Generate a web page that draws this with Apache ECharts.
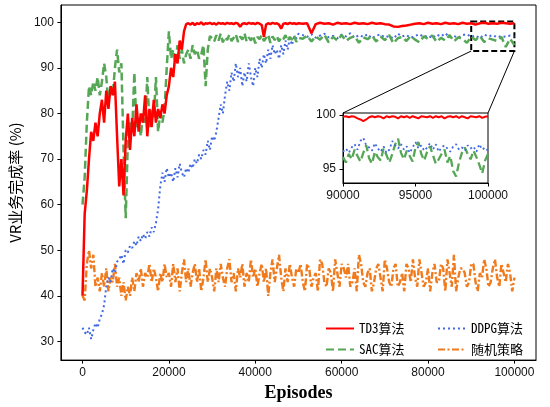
<!DOCTYPE html>
<html>
<head>
<meta charset="utf-8">
<script src="https://cdn.jsdelivr.net/npm/echarts@6/dist/echarts.min.js"></script>
<style>
  html, body { margin: 0; padding: 0; background: #fff; }
  #chart { width: 550px; height: 407px; }
</style>
</head>
<body>
<div id="chart"></div>
<script>
// episodes: every 500 up to 50000, then every 1000
const episodes = [];
for (let e = 0; e <= 50000; e += 500) episodes.push(e);
for (let e = 51000; e <= 100000; e += 1000) episodes.push(e);
// the random policy is read every 500 episodes over the whole run
const episodesFine = [];
for (let e = 0; e <= 100000; e += 500) episodesFine.push(e);

const td3Rate = [
  40, 58, 63, 70, 76, 74, 78, 75, 80, 83, 78, 85, 81, 86, 84, 87, 75, 64, 70, 62,
  74, 80, 72, 79, 75, 82, 76, 80, 78, 84, 75, 81, 77, 83, 78, 81, 79, 82, 80, 84,
  86, 90, 88, 93, 91, 96, 94, 98, 99.6, 99.8, 99.5, 99.9, 99.4, 99.8, 99.6, 100, 99.5, 99.8, 99.7, 99.9,
  99.6, 99.8, 99.5, 99.9, 99.7, 99.8, 99.6, 99.9, 99.7, 99.8, 99.6, 99.9, 99.7, 99.0, 99.7, 99.8, 99.6, 99.9, 99.7, 99.8,
  99.6, 99.9, 99.7, 99.4, 96.8, 99.5, 99.8, 99.6, 99.9, 99.7, 99.8, 99.5, 98.6, 99.7, 99.8, 99.6, 99.9, 99.7, 99.8, 99.6,
  99.8,
  99.7, 99.8, 97.6, 99.6, 99.9, 99.7, 99.8, 99.5, 99.9, 99.7, 99.8, 99.6, 99.9, 99.7, 99.8, 99.6, 99.9, 99.7, 99.8, 99.6,
  99.5, 99.1, 99.0, 99.2, 99.3, 99.5, 99.7, 99.8, 99.6, 99.9, 99.7, 99.8, 99.6, 99.9, 99.7, 99.8, 99.6, 99.9, 99.7, 99.8,
  99.5, 99.8, 99.9, 99.7, 99.8, 99.7, 99.9, 99.8, 99.7, 99.8
];

const sacRate = [
  60, 66, 78, 86, 84, 87, 85, 88, 84, 87, 91, 88, 82, 86, 84, 90, 94, 89, 91, 72,
  57, 74, 78, 76, 89, 77, 79, 75, 80, 78, 88, 77, 81, 79, 88, 76, 80, 78, 81, 90,
  98, 92, 94, 91, 95, 92, 94, 91, 93, 94, 92, 95, 93, 94, 92, 93, 95, 86, 94, 97,
  96.5, 95.8, 97.2, 96.0, 97.5, 95.6, 96.8, 96.1, 97.3, 95.9, 96.6, 97.4, 95.7, 96.9, 96.2, 97.6, 95.8, 96.7, 96.0, 97.1,
  95.4, 96.8, 96.3, 97.2, 95.9, 96.6, 97.3, 95.5, 96.9, 96.1, 97.0, 95.8, 96.7, 96.3, 97.2, 95.9, 96.8, 96.2, 97.1, 95.7,
  96.6,
  96.4, 97.1, 95.8, 96.9, 96.2, 97.3, 95.6, 96.8, 96.0, 97.2, 95.9, 96.6, 97.0, 95.5, 96.7, 96.3, 97.1, 95.8, 96.9, 96.1,
  97.2, 95.4, 96.5, 96.8, 95.9, 97.0, 96.2, 95.6, 96.9, 96.4, 97.1, 95.7, 96.6, 96.0, 97.2, 95.8, 96.7, 96.3, 95.5, 96.9,
  96.1, 97.0, 95.7, 96.5, 96.2, 95.9, 96.8, 94.6, 96.4, 95.0
];

const ddpgRate = [
  33, 32, 31.5, 33, 30.5, 32.5, 34, 33, 35, 36, 38, 42, 44, 43, 46, 45, 47.5, 48, 49, 47,
  50, 49.5, 51, 50.5, 52, 51, 53, 52, 53.5, 52.5, 54, 53, 55, 54, 56, 59, 64, 67, 65, 68,
  66, 67, 65, 68, 66, 69, 67, 66, 68, 67, 69, 68, 70, 69, 71, 70, 72, 71, 74, 72,
  75, 74, 76, 79, 82, 80, 84, 87, 85, 89, 87, 91, 88, 90, 86, 89, 87, 91, 88, 86,
  90, 88, 92, 90, 93, 91, 94, 92, 95, 93, 94, 92, 95, 93, 96, 94, 96.5, 95, 97, 96.5,
  97.5,
  97.2, 96.8, 97.4, 96.6, 97.1, 97.5, 96.7, 97.0, 96.5, 97.3, 96.9, 97.6, 96.6, 97.2, 96.8, 97.4, 96.5, 97.1, 97.3, 96.7,
  97.0, 96.4, 97.5, 96.9, 97.2, 96.6, 97.0, 97.4, 96.8, 97.1, 96.5, 97.3, 96.9, 97.6, 96.7, 97.0, 96.6, 97.2, 97.4, 96.8,
  97.1, 96.5, 97.3, 96.9, 97.2, 96.7, 97.0, 96.8, 97.1, 96.9
];

const randomRate = [
  40, 39, 47, 50, 46, 49, 42, 44, 41, 45, 42, 46, 41, 44, 43, 47, 42, 44, 40, 43,
  39, 42, 40, 44, 41, 45, 43, 46, 42, 45, 44, 47, 43, 46, 44, 41, 45, 43, 47, 44,
  45, 42, 47, 43, 46, 41, 45, 48, 43, 46, 42, 45, 47, 43, 46, 41, 44, 48, 43, 46,
  44, 41, 46, 43, 47, 44, 42, 46, 48, 43, 45, 41, 46, 44, 47, 42, 45, 43, 48, 44,
  46, 42, 45, 47, 43, 46, 40, 45, 48, 43, 46, 49, 44, 41, 46, 43, 47, 44, 42, 46,
  45,
  47, 43, 41, 47, 46, 42, 44, 45, 41, 48, 47, 43, 42, 46, 45, 41, 48, 45, 42, 47,
  46, 44, 47, 42, 43, 46, 41, 49, 47, 43, 42, 45, 46, 41, 43, 46, 47, 44, 41, 48,
  46, 43, 42, 46, 47, 42, 43, 45, 41, 47, 46, 43, 48, 44, 42, 48, 45, 42, 43, 46,
  41, 45, 47, 43, 43, 47, 46, 41, 48, 45, 42, 49, 41, 44, 46, 46, 45, 42, 43, 47,
  47, 43, 41, 45, 44, 48, 46, 42, 43, 46, 48, 44, 42, 47, 45, 43, 47, 45, 41, 44
];

// zoomed window 90000-100000, every 200 episodes
const insetEpisodes = [];
for (let e = 90000; e <= 100000; e += 200) insetEpisodes.push(e);

const insetTd3 = [
  99.85, 99.9, 99.8, 99.9, 99.85, 99.7, 99.6, 99.45, 99.6, 99.8, 99.9, 99.8, 99.9, 99.85, 99.7, 99.9, 99.8, 99.9, 99.85, 99.7,
  99.9, 99.8, 99.9, 99.75, 99.9, 99.8, 99.7, 99.9, 99.85, 99.8, 99.9, 99.75, 99.9, 99.8, 99.9, 99.7, 99.85, 99.9, 99.8, 99.9,
  99.75, 99.9, 99.8, 99.7, 99.9, 99.85, 99.8, 99.9, 99.75, 99.85, 99.9
];
const insetSac = [
  96.1, 95.6, 96.4, 95.9, 96.8, 96.2, 95.7, 96.5, 97.2, 96.0, 95.5, 96.6, 96.1, 95.8, 96.9, 96.3, 95.6, 96.4, 97.3, 97.8,
  96.5, 95.9, 96.7, 96.2, 95.7, 97.0, 97.5, 96.4, 95.8, 96.6, 97.1, 96.3, 95.5, 95.9, 96.4, 96.8, 95.6, 96.2, 94.8, 94.3,
  95.6, 96.5, 97.0, 96.4, 95.9, 96.7, 96.1, 95.4, 94.6, 95.8, 96.4
];
const insetDdpg = [
  96.6, 96.9, 96.5, 97.0, 97.3, 96.8, 97.6, 97.9, 97.2, 97.0, 96.7, 97.4, 96.9, 96.6, 97.1, 96.5, 96.8, 97.6, 97.2, 96.9,
  97.3, 96.8, 97.1, 96.5, 97.0, 97.5, 96.9, 97.2, 96.7, 97.0, 97.4, 96.8, 97.3, 96.6, 97.0, 97.2, 96.9, 96.6, 97.1, 97.3,
  96.8, 97.0, 96.7, 97.2, 96.9, 97.1, 96.6, 97.3, 96.8, 97.0, 96.7
];

const xTicks = [0, 20000, 40000, 60000, 80000, 100000];
const yTicks = [30, 40, 50, 60, 70, 80, 90, 100];
const insetXTicks = [90000, 95000, 100000];
const insetYTicks = [95, 100];

const insetX = [90000, 100000];
const insetY = [93.7, 100.2];

const RED = '#ff0000', GREEN = '#55a655', BLUE = '#4169e1', ORANGE = '#f07a1c';
const tickFont = 'Liberation Sans';
const monoCjk = "'Noto Sans Mono CJK SC', 'DejaVu Sans Mono', 'Noto Sans CJK SC'";

const pairs = (xs, ys) => xs.map((x, i) => [x, ys[i]]);

function line(name, xs, ys, color, width, dash, grid, z) {
  return {
    name: name,
    type: 'line',
    xAxisIndex: grid,
    yAxisIndex: grid,
    data: pairs(xs, ys),
    symbol: 'none',
    z: z,
    lineStyle: { color: color, width: width, type: dash },
    itemStyle: { color: color }
  };
}

function valueAxis(grid, min, max, ticks, extra) {
  return Object.assign({
    type: 'value',
    gridIndex: grid,
    min: min,
    max: max,
    splitLine: { show: false },
    axisLine: { show: true, onZero: false, lineStyle: { color: '#000', width: 1 } },
    axisTick: { show: true, length: 3.5, customValues: ticks, lineStyle: { color: '#000' } },
    axisLabel: {
      customValues: ticks,
      formatter: v => String(v),
      fontFamily: tickFont, fontSize: 12, color: '#111', margin: 7
    }
  }, extra || {});
}

const chart = echarts.init(document.getElementById('chart'));

const td3Main = line('TD3算法', episodes, td3Rate, RED, 2.5, 'solid', 0, 5);
td3Main.markArea = {
  silent: true,
  itemStyle: { color: 'rgba(0,0,0,0)', borderColor: '#000', borderWidth: 2, borderType: [6, 3] },
  data: [[{ xAxis: insetX[0], yAxis: insetY[1] }, { xAxis: insetX[1], yAxis: insetY[0] }]]
};

const legendBase = {
  orient: 'vertical', top: 317,
  itemWidth: 28, itemHeight: 12, itemGap: 8,
  itemStyle: { opacity: 0 },
  textStyle: { fontFamily: monoCjk, fontSize: 13, color: '#000' }
};

chart.setOption({
  animation: false,
  backgroundColor: '#fff',
  grid: [
    { left: 55, top: 5, width: 481, height: 358, show: true, borderColor: '#000', borderWidth: 1 },
    { left: 343, top: 113, width: 145, height: 70, show: true, borderColor: '#000', borderWidth: 1, backgroundColor: '#fff', z: 10 }
  ],
  xAxis: [
    valueAxis(0, -5000, 105000, xTicks, {
      name: 'Episodes', nameLocation: 'middle', nameGap: 21,
      nameTextStyle: { fontFamily: 'Liberation Serif', fontWeight: 'bold', fontSize: 18, color: '#000' }
    }),
    valueAxis(1, insetX[0], insetX[1], insetXTicks, { z: 10 })
  ],
  yAxis: [
    valueAxis(0, 25.9, 103.8, yTicks, {
      name: 'VR业务完成率 (%)', nameLocation: 'middle', nameGap: 36,
      nameTextStyle: { fontFamily: 'Noto Sans CJK SC', fontSize: 15, color: '#000' }
    }),
    valueAxis(1, insetY[0], insetY[1], insetYTicks, { z: 10 })
  ],
  legend: [
    Object.assign({ data: ['TD3算法', 'SAC算法'], left: 320 }, legendBase),
    Object.assign({ data: ['DDPG算法', '随机策略'], left: 432 }, legendBase)
  ],
  series: [
    line('随机策略', episodesFine, randomRate, ORANGE, 2.4, [7, 2.5, 2, 2.5], 0, 2),
    line('DDPG算法', episodes, ddpgRate, BLUE, 2, [2, 3], 0, 3),
    line('SAC算法', episodes, sacRate, GREEN, 2.5, [8, 4], 0, 4),
    td3Main,
    line('SAC-zoom', insetEpisodes, insetSac, GREEN, 2.3, [8, 4], 1, 11),
    line('DDPG-zoom', insetEpisodes, insetDdpg, BLUE, 1.8, [2, 3], 1, 12),
    line('TD3-zoom', insetEpisodes, insetTd3, RED, 2, 'solid', 1, 13)
  ]
});

// connector lines from the dashed box to the inset, placed through both grids' scales
const m0 = chart.convertToPixel({ xAxisIndex: 0, yAxisIndex: 0 }, [insetX[0], insetY[0]]);
const m1 = chart.convertToPixel({ xAxisIndex: 0, yAxisIndex: 0 }, [insetX[1], insetY[0]]);
const i0 = chart.convertToPixel({ xAxisIndex: 1, yAxisIndex: 1 }, [insetX[0], insetY[1]]);
const i1 = chart.convertToPixel({ xAxisIndex: 1, yAxisIndex: 1 }, [insetX[1], insetY[1]]);
chart.setOption({
  graphic: [
    { type: 'line', z: 20, shape: { x1: m0[0], y1: m0[1], x2: i0[0], y2: i0[1] }, style: { stroke: '#000', lineWidth: 1 } },
    { type: 'line', z: 20, shape: { x1: m1[0], y1: m1[1], x2: i1[0], y2: i1[1] }, style: { stroke: '#000', lineWidth: 1 } }
  ]
});
</script>
</body>
</html>
